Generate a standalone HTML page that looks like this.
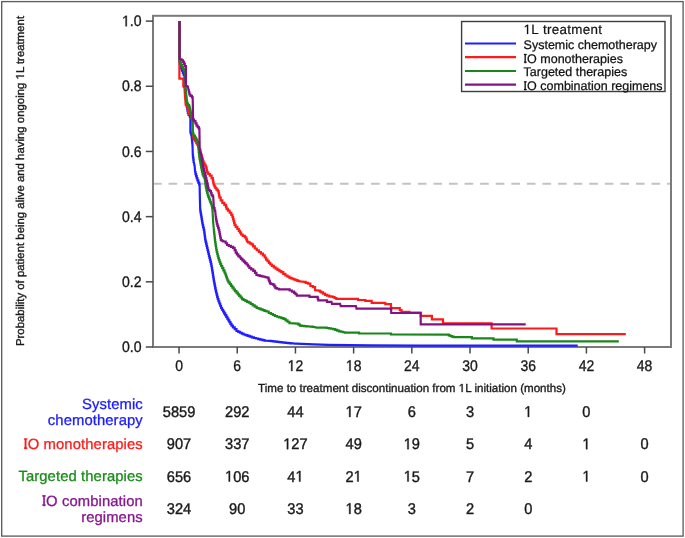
<!DOCTYPE html>
<html><head><meta charset="utf-8"><style>
html,body{margin:0;padding:0;background:#fff;}
svg{display:block;will-change:transform;filter:blur(0.3px);}
text{font-family:"Liberation Sans",sans-serif;text-rendering:geometricPrecision;}
.yl text{font-size:15.3px;text-anchor:end;fill:#1a1a1a;stroke:#1a1a1a;stroke-width:0.35px;}
.xl text{font-size:15.5px;text-anchor:middle;fill:#1a1a1a;stroke:#1a1a1a;stroke-width:0.35px;}
.num{font-size:15.4px;text-anchor:middle;fill:#1a1a1a;stroke:#1a1a1a;stroke-width:0.4px;}
.lab{font-size:14.8px;text-anchor:end;letter-spacing:0.1px;stroke-width:0.3px;}
.leg{font-size:12.5px;fill:#111;stroke:#111;stroke-width:0.25px;}
.legt{font-size:13.4px;letter-spacing:0.3px;fill:#111;stroke:#111;stroke-width:0.2px;}
</style></head><body>
<svg width="685" height="538" viewBox="0 0 685 538">
<rect x="0" y="0" width="685" height="538" fill="#fff"/>
<rect x="1.7" y="1.6" width="681.4" height="534.5" fill="none" stroke="#5e5e5e" stroke-width="1.35"/>
<line x1="153" y1="183.8" x2="671" y2="183.8" stroke="#c2c2c2" stroke-width="2" stroke-dasharray="8.6 6.98"/>
<rect x="153" y="15.8" width="518" height="331.2" fill="none" stroke="#7a7a7a" stroke-width="2"/>
<g fill="none" stroke-width="2.2" stroke-linejoin="miter">
<polyline stroke="#1e1eff" points="179.50,21.10 179.50,62.00 179.83,62.00 179.83,64.17 180.50,64.17 180.50,66.33 181.17,66.33 181.17,68.50 181.50,68.50 181.94,68.50 181.94,70.75 182.81,70.75 182.81,73.00 183.69,73.00 183.69,75.25 184.56,75.25 184.56,77.50 185.00,77.50 185.50,90.00 185.59,90.00 185.59,92.14 185.78,92.14 185.78,94.29 185.96,94.29 185.96,96.43 186.15,96.43 186.15,98.57 186.34,98.57 186.34,100.71 186.52,100.71 186.52,102.86 186.71,102.86 186.71,105.00 186.80,105.00 186.95,105.00 186.95,107.00 187.25,107.00 187.25,109.00 187.55,109.00 187.55,111.00 187.85,111.00 187.85,113.00 188.00,113.00 188.60,113.00 188.60,114.85 189.80,114.85 189.80,116.70 190.40,116.70 190.40,131.80 190.70,131.80 190.70,133.45 191.30,133.45 191.30,135.10 191.60,135.10 191.69,135.10 191.69,137.08 191.87,137.08 191.87,139.06 192.05,139.06 192.05,141.04 192.23,141.04 192.23,143.02 192.41,143.02 192.41,145.00 192.50,145.00 192.80,155.00 192.97,155.00 192.97,157.33 193.30,157.33 193.30,159.67 193.63,159.67 193.63,162.00 193.80,162.00 194.60,166.00 195.20,172.00 195.50,172.00 195.50,174.07 196.10,174.07 196.10,176.13 196.70,176.13 196.70,178.20 197.00,178.20 197.43,178.20 197.43,180.37 198.30,180.37 198.30,182.53 199.17,182.53 199.17,184.70 199.60,184.70 199.90,199.00 200.20,209.40 200.36,209.40 200.36,211.35 200.69,211.35 200.69,213.30 201.01,213.30 201.01,215.25 201.34,215.25 201.34,217.20 201.50,217.20 201.66,217.20 201.66,219.15 201.99,219.15 201.99,221.10 202.31,221.10 202.31,223.05 202.64,223.05 202.64,225.00 202.80,225.00 203.12,225.00 203.12,227.50 203.78,227.50 203.78,230.00 204.10,230.00 204.25,230.00 204.25,232.38 204.55,232.38 204.55,234.75 204.85,234.75 204.85,237.12 205.15,237.12 205.15,239.50 205.30,239.50 205.55,239.50 205.55,241.60 206.05,241.60 206.05,243.70 206.55,243.70 206.55,245.80 207.05,245.80 207.05,247.90 207.55,247.90 207.55,250.00 207.80,250.00 208.03,250.00 208.03,252.00 208.50,252.00 208.50,254.00 208.97,254.00 208.97,256.00 209.20,256.00 209.45,256.00 209.45,257.95 209.95,257.95 209.95,259.90 210.45,259.90 210.45,261.85 210.95,261.85 210.95,263.80 211.20,263.80 211.39,263.80 211.39,266.02 211.76,266.02 211.76,268.25 212.14,268.25 212.14,270.48 212.51,270.48 212.51,272.70 212.70,272.70 212.88,272.70 212.88,274.90 213.22,274.90 213.22,277.10 213.57,277.10 213.57,279.30 213.92,279.30 213.92,281.50 214.10,281.50 214.31,281.50 214.31,283.70 214.74,283.70 214.74,285.90 215.16,285.90 215.16,288.10 215.59,288.10 215.59,290.30 215.80,290.30 216.08,290.30 216.08,292.48 216.62,292.48 216.62,294.65 217.18,294.65 217.18,296.82 217.72,296.82 217.72,299.00 218.00,299.00 218.44,299.00 218.44,301.25 219.31,301.25 219.31,303.50 220.19,303.50 220.19,305.75 221.06,305.75 221.06,308.00 221.50,308.00 222.03,308.00 222.03,309.76 223.09,309.76 223.09,311.52 224.15,311.52 224.15,313.28 225.21,313.28 225.21,315.04 226.27,315.04 226.27,316.80 226.80,316.80 227.32,316.80 227.32,318.56 228.36,318.56 228.36,320.32 229.40,320.32 229.40,322.08 230.44,322.08 230.44,323.84 231.48,323.84 231.48,325.60 232.00,325.60 232.90,325.60 232.90,327.40 234.70,327.40 234.70,329.20 236.50,329.20 236.50,331.00 237.40,331.00 238.28,331.00 238.28,331.88 240.03,331.88 240.03,332.75 241.78,332.75 241.78,333.62 243.53,333.62 243.53,334.50 244.40,334.50 245.46,334.50 245.46,335.20 247.58,335.20 247.58,335.90 249.70,335.90 249.70,336.60 251.82,336.60 251.82,337.30 253.94,337.30 253.94,338.00 255.00,338.00 256.06,338.00 256.06,338.52 258.18,338.52 258.18,339.04 260.30,339.04 260.30,339.56 262.42,339.56 262.42,340.08 264.54,340.08 264.54,340.60 265.60,340.60 270.00,340.90 271.04,340.90 271.04,341.16 273.13,341.16 273.13,341.41 275.21,341.41 275.21,341.67 277.30,341.67 277.30,341.93 279.39,341.93 279.39,342.19 281.47,342.19 281.47,342.44 283.56,342.44 283.56,342.70 284.60,342.70 285.77,342.70 285.77,342.90 288.11,342.90 288.11,343.10 290.45,343.10 290.45,343.30 292.79,343.30 292.79,343.50 295.13,343.50 295.13,343.70 296.30,343.70 313.80,344.40 328.40,344.80 370.00,345.30 420.00,345.60 577.70,345.60"/>
<polyline stroke="#ff1a1a" points="179.40,21.10 179.40,78.60 183.30,78.60 183.30,86.00 183.85,86.00 183.85,87.00 184.40,87.00 185.20,98.90 185.70,104.90 186.60,104.90 186.60,106.40 187.50,106.40 188.20,112.30 189.30,112.30 189.30,113.80 190.40,113.80 190.90,116.00 191.75,116.00 191.75,118.50 192.60,118.50 192.70,133.50 192.95,133.50 192.95,136.00 193.45,136.00 193.45,138.50 193.70,138.50 194.15,138.50 194.15,139.30 194.60,139.30 195.15,139.30 195.15,141.20 196.25,141.20 196.25,143.10 197.35,143.10 197.35,145.00 197.90,145.00 198.23,145.00 198.23,146.99 198.88,146.99 198.88,148.98 199.54,148.98 199.54,150.97 200.19,150.97 200.19,152.96 200.85,152.96 200.85,154.94 201.51,154.94 201.51,156.93 202.16,156.93 202.16,158.92 202.82,158.92 202.82,160.91 203.47,160.91 203.47,162.90 203.80,162.90 204.38,162.90 204.38,164.70 205.53,164.70 205.53,166.50 206.10,166.50 206.32,166.50 206.32,168.47 206.75,168.47 206.75,170.43 207.18,170.43 207.18,172.40 207.40,172.40 208.20,172.40 208.20,174.00 209.80,174.00 209.80,175.60 210.60,175.60 211.60,175.60 211.60,178.20 212.60,178.20 212.82,178.20 212.82,180.37 213.25,180.37 213.25,182.53 213.68,182.53 213.68,184.70 213.90,184.70 214.38,184.70 214.38,186.35 215.33,186.35 215.33,188.00 215.80,188.00 216.45,188.00 216.45,189.60 217.75,189.60 217.75,191.20 218.40,191.20 218.62,191.20 218.62,193.37 219.05,193.37 219.05,195.53 219.48,195.53 219.48,197.70 219.70,197.70 220.70,197.70 220.70,200.30 221.70,200.30 222.35,200.30 222.35,202.90 223.00,202.90 224.30,202.90 224.30,204.90 225.60,204.90 225.93,204.90 225.93,206.85 226.57,206.85 226.57,208.80 226.90,208.80 227.85,208.80 227.85,210.70 228.80,210.70 229.62,210.70 229.62,212.75 231.28,212.75 231.28,214.80 232.10,214.80 232.43,214.80 232.43,217.00 233.07,217.00 233.07,219.20 233.40,219.20 233.63,219.20 233.63,221.07 234.10,221.07 234.10,222.93 234.57,222.93 234.57,224.80 234.80,224.80 235.65,224.80 235.65,226.90 237.35,226.90 237.35,229.00 238.20,229.00 238.78,229.00 238.78,230.83 239.95,230.83 239.95,232.67 241.12,232.67 241.12,234.50 241.70,234.50 242.75,234.50 242.75,235.90 244.85,235.90 244.85,237.30 245.90,237.30 246.25,237.30 246.25,239.40 246.95,239.40 246.95,241.50 247.30,241.50 248.12,241.50 248.12,242.43 249.75,242.43 249.75,243.37 251.38,243.37 251.38,244.30 252.20,244.30 253.07,244.30 253.07,246.40 254.82,246.40 254.82,248.50 255.70,248.50 256.75,248.50 256.75,250.25 258.85,250.25 258.85,252.00 259.90,252.00 260.92,252.00 260.92,253.70 262.98,253.70 262.98,255.40 264.00,255.40 264.70,255.40 264.70,257.50 266.10,257.50 266.10,259.60 266.80,259.60 267.50,259.60 267.50,261.23 268.90,261.23 268.90,262.87 270.30,262.87 270.30,264.50 271.00,264.50 271.93,264.50 271.93,265.90 273.80,265.90 273.80,267.30 275.67,267.30 275.67,268.70 276.60,268.70 277.53,268.70 277.53,269.87 279.40,269.87 279.40,271.03 281.27,271.03 281.27,272.20 282.20,272.20 283.25,272.20 283.25,273.85 285.35,273.85 285.35,275.50 286.40,275.50 287.42,275.50 287.42,276.65 289.48,276.65 289.48,277.80 290.50,277.80 291.48,277.80 291.48,278.60 293.45,278.60 293.45,279.40 295.42,279.40 295.42,280.20 296.40,280.20 297.40,280.20 297.40,280.80 299.40,280.80 299.40,281.40 300.40,281.40 304.50,281.90 305.68,281.90 305.68,282.80 308.02,282.80 308.02,283.70 309.20,283.70 310.35,283.70 310.35,286.00 311.50,286.00 313.00,286.00 313.00,287.20 314.50,287.20 315.05,287.20 315.05,290.10 315.60,290.10 319.10,290.70 319.83,290.70 319.83,291.55 321.27,291.55 321.27,292.40 322.00,292.40 323.02,292.40 323.02,293.60 325.08,293.60 325.08,294.80 326.10,294.80 327.12,294.80 327.12,295.55 329.18,295.55 329.18,296.30 330.20,296.30 331.07,296.30 331.07,296.70 332.82,296.70 332.82,297.10 333.70,297.10 334.57,297.10 334.57,298.00 336.32,298.00 336.32,298.90 337.20,298.90 358.00,298.90 358.00,300.00 365.30,300.00 365.30,300.80 371.70,300.80 371.70,302.90 385.30,302.90 385.30,304.20 391.00,304.20 391.00,308.10 399.80,308.10 399.80,310.10 401.50,310.10 401.50,311.80 409.40,311.80 409.40,312.50 420.70,312.50 420.70,315.80 431.90,315.80 431.90,319.30 443.00,319.30 443.00,323.30 491.60,323.30 491.60,328.50 556.50,328.50 556.50,334.10 625.80,334.10"/>
<polyline stroke="#1a871a" points="179.60,21.10 179.60,61.20 180.07,61.20 180.07,63.05 181.00,63.05 181.00,64.90 181.93,64.90 181.93,66.75 182.87,66.75 182.87,68.60 183.80,68.60 183.80,70.45 184.73,70.45 184.73,72.30 185.20,72.30 185.60,80.00 185.60,90.00 185.71,90.00 185.71,92.38 185.93,92.38 185.93,94.76 186.15,94.76 186.15,97.14 186.37,97.14 186.37,99.52 186.59,99.52 186.59,101.90 186.70,101.90 187.17,101.90 187.17,103.50 188.10,103.50 188.10,105.10 189.03,105.10 189.03,106.70 189.50,106.70 189.72,106.70 189.72,108.67 190.15,108.67 190.15,110.63 190.58,110.63 190.58,112.60 190.80,112.60 191.01,112.60 191.01,114.90 191.44,114.90 191.44,117.20 191.86,117.20 191.86,119.50 192.29,119.50 192.29,121.80 192.50,121.80 192.90,133.50 193.55,133.50 193.55,135.50 194.85,135.50 194.85,137.50 195.50,137.50 196.10,137.50 196.10,139.65 197.30,139.65 197.30,141.80 197.90,141.80 198.60,149.50 198.73,149.50 198.73,152.00 199.00,152.00 199.00,154.50 199.27,154.50 199.27,157.00 199.40,157.00 199.59,157.00 199.59,159.00 199.96,159.00 199.96,161.00 200.34,161.00 200.34,163.00 200.71,163.00 200.71,165.00 200.90,165.00 201.14,165.00 201.14,167.32 201.61,167.32 201.61,169.65 202.09,169.65 202.09,171.98 202.56,171.98 202.56,174.30 202.80,174.30 203.30,174.30 203.30,176.25 204.30,176.25 204.30,178.20 204.80,178.20 204.96,178.20 204.96,180.65 205.29,180.65 205.29,183.10 205.61,183.10 205.61,185.55 205.94,185.55 205.94,188.00 206.10,188.00 206.42,188.00 206.42,190.37 207.05,190.37 207.05,192.73 207.68,192.73 207.68,195.10 208.00,195.10 208.33,195.10 208.33,196.83 209.00,196.83 209.00,198.57 209.67,198.57 209.67,200.30 210.00,200.30 210.32,200.30 210.32,202.03 210.95,202.03 210.95,203.77 211.58,203.77 211.58,205.50 211.90,205.50 212.60,212.00 213.20,222.50 213.90,230.00 214.01,230.00 214.01,232.00 214.23,232.00 214.23,234.00 214.45,234.00 214.45,236.00 214.67,236.00 214.67,238.00 214.89,238.00 214.89,240.00 215.00,240.00 215.15,240.00 215.15,242.00 215.45,242.00 215.45,244.00 215.75,244.00 215.75,246.00 216.05,246.00 216.05,248.00 216.35,248.00 216.35,250.00 216.50,250.00 216.75,250.00 216.75,252.00 217.25,252.00 217.25,254.00 217.75,254.00 217.75,256.00 218.25,256.00 218.25,258.00 218.50,258.00 218.85,258.00 218.85,259.93 219.55,259.93 219.55,261.87 220.25,261.87 220.25,263.80 220.60,263.80 221.15,263.80 221.15,265.98 222.25,265.98 222.25,268.15 223.35,268.15 223.35,270.32 224.45,270.32 224.45,272.50 225.00,272.50 225.35,272.50 225.35,274.50 226.05,274.50 226.05,276.50 226.75,276.50 226.75,278.50 227.45,278.50 227.45,280.50 227.80,280.50 228.45,280.50 228.45,282.30 229.75,282.30 229.75,284.10 231.05,284.10 231.05,285.90 232.35,285.90 232.35,287.70 233.65,287.70 233.65,289.50 234.30,289.50 235.00,289.50 235.00,291.10 236.40,291.10 236.40,292.70 237.80,292.70 237.80,294.30 239.20,294.30 239.20,295.90 240.60,295.90 240.60,297.50 242.00,297.50 242.00,299.10 242.70,299.10 243.57,299.10 243.57,300.00 245.32,300.00 245.32,300.90 247.07,300.90 247.07,301.80 248.82,301.80 248.82,302.70 249.70,302.70 250.70,302.70 250.70,304.02 252.70,304.02 252.70,305.35 254.70,305.35 254.70,306.68 256.70,306.68 256.70,308.00 257.70,308.00 258.67,308.00 258.67,308.70 260.61,308.70 260.61,309.40 262.55,309.40 262.55,310.10 264.49,310.10 264.49,310.80 266.43,310.80 266.43,311.50 267.40,311.50 268.70,311.50 268.70,313.00 270.00,313.00 270.97,313.00 270.97,314.00 272.90,314.00 272.90,315.00 274.83,315.00 274.83,316.00 275.80,316.00 276.90,316.00 276.90,316.73 279.10,316.73 279.10,317.45 281.30,317.45 281.30,318.17 283.50,318.17 283.50,318.90 284.60,318.90 285.57,318.90 285.57,320.33 287.50,320.33 287.50,321.77 289.43,321.77 289.43,323.20 290.40,323.20 297.70,323.70 298.45,323.70 298.45,324.70 299.95,324.70 299.95,325.70 300.70,325.70 301.79,325.70 301.79,325.90 303.98,325.90 303.98,326.10 306.16,326.10 306.16,326.30 308.34,326.30 308.34,326.50 310.52,326.50 310.52,326.70 312.71,326.70 312.71,326.90 313.80,326.90 316.70,327.60 325.50,327.60 326.59,327.60 326.59,327.98 328.76,327.98 328.76,328.35 330.94,328.35 330.94,328.73 333.11,328.73 333.11,329.10 334.20,329.10 335.18,329.10 335.18,329.83 337.15,329.83 337.15,330.57 339.12,330.57 339.12,331.30 340.10,331.30 341.07,331.30 341.07,331.77 343.00,331.77 343.00,332.23 344.93,332.23 344.93,332.70 345.90,332.70 357.60,332.70 359.05,332.70 359.05,333.50 360.50,333.50 391.00,333.50 391.00,334.40 448.00,334.60 448.75,334.60 448.75,335.30 450.25,335.30 450.25,336.00 451.00,336.00 451.85,336.00 451.85,336.60 453.55,336.60 453.55,337.20 454.40,337.20 471.90,337.20 471.90,338.30 493.50,338.30 493.50,339.60 516.80,339.60 516.80,341.30 618.80,341.30"/>
<polyline stroke="#841284" points="179.60,21.10 179.60,58.90 181.00,59.30 181.60,59.30 181.60,60.40 182.20,60.40 182.95,60.40 182.95,61.90 183.70,61.90 184.07,61.90 184.07,63.95 184.82,63.95 184.82,66.00 185.20,66.00 185.90,66.00 185.90,85.70 187.80,86.40 188.50,90.00 188.80,90.00 188.80,92.25 189.40,92.25 189.40,94.50 189.70,94.50 190.45,94.50 190.45,95.95 191.95,95.95 191.95,97.40 192.70,97.40 193.10,119.70 194.00,119.70 194.00,121.20 194.90,121.20 195.45,121.20 195.45,123.45 196.55,123.45 196.55,125.70 197.10,125.70 197.68,125.70 197.68,127.20 198.82,127.20 198.82,128.70 199.40,128.70 199.70,149.50 200.25,149.50 200.25,152.50 200.80,152.50 200.99,152.50 200.99,154.72 201.36,154.72 201.36,156.95 201.74,156.95 201.74,159.18 202.11,159.18 202.11,161.40 202.30,161.40 202.80,165.20 203.05,165.20 203.05,167.15 203.55,167.15 203.55,169.10 204.05,169.10 204.05,171.05 204.55,171.05 204.55,173.00 204.80,173.00 205.12,173.00 205.12,175.60 205.78,175.60 205.78,178.20 206.10,178.20 206.43,178.20 206.43,180.80 207.07,180.80 207.07,183.40 207.40,183.40 207.62,183.40 207.62,185.57 208.05,185.57 208.05,187.73 208.48,187.73 208.48,189.90 208.70,189.90 209.65,189.90 209.65,191.20 210.60,191.20 210.93,191.20 210.93,193.15 211.57,193.15 211.57,195.10 211.90,195.10 212.55,195.10 212.55,196.40 213.20,196.40 213.90,208.10 214.55,208.10 214.55,210.70 215.20,210.70 215.80,217.20 216.02,217.20 216.02,219.40 216.45,219.40 216.45,221.60 216.88,221.60 216.88,223.80 217.10,223.80 217.43,223.80 217.43,225.87 218.10,225.87 218.10,227.93 218.77,227.93 218.77,230.00 219.10,230.00 219.29,230.00 219.29,232.00 219.67,232.00 219.67,234.00 220.05,234.00 220.05,236.00 220.43,236.00 220.43,238.00 220.81,238.00 220.81,240.00 221.00,240.00 221.75,240.00 221.75,240.75 223.25,240.75 223.25,241.50 224.00,241.50 225.00,241.50 225.70,241.50 225.70,243.25 227.10,243.25 227.10,245.00 227.80,245.00 228.85,245.00 228.85,245.93 230.95,245.93 230.95,246.87 233.05,246.87 233.05,247.80 234.10,247.80 234.62,247.80 234.62,250.20 235.67,250.20 235.67,252.60 236.20,252.60 236.90,252.60 236.90,254.35 238.30,254.35 238.30,256.10 239.00,256.10 239.68,256.10 239.68,257.50 241.05,257.50 241.05,258.90 242.42,258.90 242.42,260.30 243.10,260.30 243.80,260.30 243.80,261.70 245.20,261.70 245.20,263.10 246.60,263.10 246.60,264.50 247.30,264.50 248.00,264.50 248.00,266.25 249.40,266.25 249.40,268.00 250.10,268.00 251.15,268.00 251.15,269.40 253.25,269.40 253.25,270.80 254.30,270.80 255.00,270.80 255.00,272.90 256.40,272.90 256.40,275.00 257.10,275.00 258.02,275.00 258.02,275.43 259.85,275.43 259.85,275.87 261.68,275.87 261.68,276.30 262.60,276.30 263.53,276.30 263.53,276.77 265.40,276.77 265.40,277.23 267.27,277.23 267.27,277.70 268.20,277.70 268.55,277.70 268.55,279.57 269.25,279.57 269.25,281.43 269.95,281.43 269.95,283.30 270.30,283.30 271.18,283.30 271.18,284.00 272.93,284.00 272.93,284.70 273.80,284.70 274.32,284.70 274.32,286.45 275.38,286.45 275.38,288.20 275.90,288.20 276.92,288.20 276.92,288.75 278.98,288.75 278.98,289.30 280.00,289.30 288.80,289.30 289.65,289.30 289.65,290.50 290.50,290.50 291.95,290.50 291.95,291.60 293.40,291.60 294.08,291.60 294.08,292.93 295.45,292.93 295.45,294.27 296.82,294.27 296.82,295.60 297.50,295.60 308.60,295.60 309.50,295.60 309.50,296.80 310.40,296.80 317.40,296.80 317.67,296.80 317.67,298.55 318.23,298.55 318.23,300.30 318.50,300.30 326.10,300.30 327.00,300.30 327.00,301.80 327.90,301.80 331.50,301.80 332.00,303.90 340.10,303.90 340.70,306.10 355.90,306.10 356.50,308.60 391.20,308.60 391.20,313.00 420.70,313.00 420.70,324.30 525.70,324.30"/>
</g>
<g stroke="#484848" stroke-width="1.5"><line x1="145.8" y1="347.00" x2="153" y2="347.00"/><line x1="145.8" y1="281.82" x2="153" y2="281.82"/><line x1="145.8" y1="216.64" x2="153" y2="216.64"/><line x1="145.8" y1="151.46" x2="153" y2="151.46"/><line x1="145.8" y1="86.28" x2="153" y2="86.28"/><line x1="145.8" y1="21.10" x2="153" y2="21.10"/><line x1="179.05" y1="347" x2="179.05" y2="353.5"/><line x1="237.24" y1="347" x2="237.24" y2="353.5"/><line x1="295.44" y1="347" x2="295.44" y2="353.5"/><line x1="353.63" y1="347" x2="353.63" y2="353.5"/><line x1="411.83" y1="347" x2="411.83" y2="353.5"/><line x1="470.02" y1="347" x2="470.02" y2="353.5"/><line x1="528.21" y1="347" x2="528.21" y2="353.5"/><line x1="586.41" y1="347" x2="586.41" y2="353.5"/><line x1="644.60" y1="347" x2="644.60" y2="353.5"/></g>
<g class="yl" transform="translate(141.6 0) scale(0.92 1)"><text x="0" y="352.20">0.0</text><text x="0" y="287.02">0.2</text><text x="0" y="221.84">0.4</text><text x="0" y="156.66">0.6</text><text x="0" y="91.48">0.8</text><g ><text x="0" y="26.30"> .0</text><path d="M-17.42 26.30 L-17.42 17.06 L-19.79 18.75 L-19.79 17.48 L-17.31 15.77 L-16.07 15.77 L-16.07 26.30Z" fill="#1a1a1a" stroke="#1a1a1a" stroke-width="0.35px"/></g></g>
<g class="xl"><g transform="translate(179.05 371.0) scale(0.9 1)"><text x="0" y="0">0</text></g><g transform="translate(237.24 371.0) scale(0.9 1)"><text x="0" y="0">6</text></g><g transform="translate(295.44 371.0) scale(0.9 1)"><text x="0" y="0"> 2</text><path d="M-4.73 0.00 L-4.73 -9.36 L-7.13 -7.64 L-7.13 -8.93 L-4.61 -10.66 L-3.36 -10.66 L-3.36 0.00Z" fill="#1a1a1a" stroke="#1a1a1a" stroke-width="0.35px"/></g><g transform="translate(353.63 371.0) scale(0.9 1)"><text x="0" y="0"> 8</text><path d="M-4.73 0.00 L-4.73 -9.36 L-7.13 -7.64 L-7.13 -8.93 L-4.61 -10.66 L-3.36 -10.66 L-3.36 0.00Z" fill="#1a1a1a" stroke="#1a1a1a" stroke-width="0.35px"/></g><g transform="translate(411.83 371.0) scale(0.9 1)"><text x="0" y="0">24</text></g><g transform="translate(470.02 371.0) scale(0.9 1)"><text x="0" y="0">30</text></g><g transform="translate(528.21 371.0) scale(0.9 1)"><text x="0" y="0">36</text></g><g transform="translate(586.41 371.0) scale(0.9 1)"><text x="0" y="0">42</text></g><g transform="translate(644.60 371.0) scale(0.9 1)"><text x="0" y="0">48</text></g></g>
<rect x="461.6" y="21.5" width="203.4" height="70" fill="#fff" stroke="#3c3c3c" stroke-width="1.4"/><g ><text class="legt" x="523.6" y="34"> </text><path d="M526.97 34.00 L526.97 25.91 L524.89 27.39 L524.89 26.28 L527.07 24.78 L528.15 24.78 L528.15 34.00Z" fill="#111" stroke="#111" stroke-width="0.2px"/></g><text class="legt" y="34"><tspan x="531.2">L</tspan><tspan x="543">treatment</tspan></text><line x1="465" y1="43.5" x2="516" y2="43.5" stroke="#1e1eff" stroke-width="2.2"/><text class="leg" x="523.6" y="48.9">Systemic chemotherapy</text><line x1="465" y1="57.2" x2="516" y2="57.2" stroke="#ff1a1a" stroke-width="2.2"/><g ><text class="leg" x="523.6" y="62.6">IO monotherapies</text><path d="M524.03 62.60 L526.65 62.60 L526.65 61.68 L524.03 61.68ZM524.03 54.92 L526.65 54.92 L526.65 54.00 L524.03 54.00Z" fill="#111" stroke="#111" stroke-width="0.25px"/></g><line x1="465" y1="71.0" x2="516" y2="71.0" stroke="#1a871a" stroke-width="2.2"/><text class="leg" x="523.6" y="76.4">Targeted therapies</text><line x1="465" y1="84.6" x2="516" y2="84.6" stroke="#841284" stroke-width="2.2"/><g ><text class="leg" x="523.6" y="90.0">IO combination regimens</text><path d="M524.03 90.00 L526.65 90.00 L526.65 89.08 L524.03 89.08ZM524.03 82.32 L526.65 82.32 L526.65 81.40 L524.03 81.40Z" fill="#111" stroke="#111" stroke-width="0.25px"/></g>
<g ><text x="412" y="392" font-size="11.6" text-anchor="middle" fill="#1a1a1a" stroke="#1a1a1a" stroke-width="0.35">Time to treatment discontinuation from  L initiation (months)</text><path d="M461.62 392.00 L461.62 384.99 L459.82 386.28 L459.82 385.32 L461.71 384.02 L462.65 384.02 L462.65 392.00Z" fill="#1a1a1a" stroke="#1a1a1a" stroke-width="0.35px"/></g>
<g transform="translate(24 181) rotate(-90)"><text x="0" y="0" font-size="11.4" text-anchor="middle" fill="#1a1a1a" stroke="#1a1a1a" stroke-width="0.35">Probability of patient being alive and having ongoing  L treatment</text><path d="M104.39 0.00 L104.39 -6.89 L102.62 -5.62 L102.62 -6.57 L104.47 -7.84 L105.40 -7.84 L105.40 0.00Z" fill="#1a1a1a" stroke="#1a1a1a" stroke-width="0.35px"/></g>
<text class="lab" x="142.8" y="408.5" fill="#1a1aff" stroke="#1a1aff">Systemic</text><text class="lab" x="142.8" y="425.0" fill="#1a1aff" stroke="#1a1aff">chemotherapy</text><g transform="translate(179.05 416.9) scale(0.95 1)"><text class="num" x="0" y="0">5859</text></g><g transform="translate(237.24 416.9) scale(0.95 1)"><text class="num" x="0" y="0">292</text></g><g transform="translate(295.44 416.9) scale(0.95 1)"><text class="num" x="0" y="0">44</text></g><g transform="translate(353.63 416.9) scale(0.95 1)"><text class="num" x="0" y="0"> 7</text><path d="M-4.69 0.00 L-4.69 -9.30 L-7.08 -7.59 L-7.08 -8.87 L-4.58 -10.60 L-3.33 -10.60 L-3.33 0.00Z" fill="#1a1a1a" stroke="#1a1a1a" stroke-width="0.4px"/></g><g transform="translate(411.83 416.9) scale(0.95 1)"><text class="num" x="0" y="0">6</text></g><g transform="translate(470.02 416.9) scale(0.95 1)"><text class="num" x="0" y="0">3</text></g><g transform="translate(528.21 416.9) scale(0.95 1)"><text class="num" x="0" y="0"> </text><path d="M-0.41 0.00 L-0.41 -9.30 L-2.80 -7.59 L-2.80 -8.87 L-0.30 -10.60 L0.95 -10.60 L0.95 0.00Z" fill="#1a1a1a" stroke="#1a1a1a" stroke-width="0.4px"/></g><g transform="translate(586.41 416.9) scale(0.95 1)"><text class="num" x="0" y="0">0</text></g><g ><text class="lab" x="142.8" y="448.7" fill="#ff1a1a" stroke="#ff1a1a">IO monotherapies</text><path d="M24.09 448.70 L27.19 448.70 L27.19 447.62 L24.09 447.62ZM24.09 439.60 L27.19 439.60 L27.19 438.52 L24.09 438.52Z" fill="#ff1a1a" stroke="#ff1a1a" stroke-width="0.3px"/></g><g transform="translate(179.05 449.2) scale(0.95 1)"><text class="num" x="0" y="0">907</text></g><g transform="translate(237.24 449.2) scale(0.95 1)"><text class="num" x="0" y="0">337</text></g><g transform="translate(295.44 449.2) scale(0.95 1)"><text class="num" x="0" y="0"> 27</text><path d="M-8.97 0.00 L-8.97 -9.30 L-11.36 -7.59 L-11.36 -8.87 L-8.86 -10.60 L-7.61 -10.60 L-7.61 0.00Z" fill="#1a1a1a" stroke="#1a1a1a" stroke-width="0.4px"/></g><g transform="translate(353.63 449.2) scale(0.95 1)"><text class="num" x="0" y="0">49</text></g><g transform="translate(411.83 449.2) scale(0.95 1)"><text class="num" x="0" y="0"> 9</text><path d="M-4.69 0.00 L-4.69 -9.30 L-7.08 -7.59 L-7.08 -8.87 L-4.58 -10.60 L-3.33 -10.60 L-3.33 0.00Z" fill="#1a1a1a" stroke="#1a1a1a" stroke-width="0.4px"/></g><g transform="translate(470.02 449.2) scale(0.95 1)"><text class="num" x="0" y="0">5</text></g><g transform="translate(528.21 449.2) scale(0.95 1)"><text class="num" x="0" y="0">4</text></g><g transform="translate(586.41 449.2) scale(0.95 1)"><text class="num" x="0" y="0"> </text><path d="M-0.41 0.00 L-0.41 -9.30 L-2.80 -7.59 L-2.80 -8.87 L-0.30 -10.60 L0.95 -10.60 L0.95 0.00Z" fill="#1a1a1a" stroke="#1a1a1a" stroke-width="0.4px"/></g><g transform="translate(644.60 449.2) scale(0.95 1)"><text class="num" x="0" y="0">0</text></g><text class="lab" x="142.8" y="481.0" fill="#1a8c1a" stroke="#1a8c1a">Targeted therapies</text><g transform="translate(179.05 481.5) scale(0.95 1)"><text class="num" x="0" y="0">656</text></g><g transform="translate(237.24 481.5) scale(0.95 1)"><text class="num" x="0" y="0"> 06</text><path d="M-8.97 0.00 L-8.97 -9.30 L-11.36 -7.59 L-11.36 -8.87 L-8.86 -10.60 L-7.61 -10.60 L-7.61 0.00Z" fill="#1a1a1a" stroke="#1a1a1a" stroke-width="0.4px"/></g><g transform="translate(295.44 481.5) scale(0.95 1)"><text class="num" x="0" y="0">4 </text><path d="M3.86 0.00 L3.86 -9.30 L1.47 -7.59 L1.47 -8.87 L3.97 -10.60 L5.22 -10.60 L5.22 0.00Z" fill="#1a1a1a" stroke="#1a1a1a" stroke-width="0.4px"/></g><g transform="translate(353.63 481.5) scale(0.95 1)"><text class="num" x="0" y="0">2 </text><path d="M3.86 0.00 L3.86 -9.30 L1.47 -7.59 L1.47 -8.87 L3.97 -10.60 L5.22 -10.60 L5.22 0.00Z" fill="#1a1a1a" stroke="#1a1a1a" stroke-width="0.4px"/></g><g transform="translate(411.83 481.5) scale(0.95 1)"><text class="num" x="0" y="0"> 5</text><path d="M-4.69 0.00 L-4.69 -9.30 L-7.08 -7.59 L-7.08 -8.87 L-4.58 -10.60 L-3.33 -10.60 L-3.33 0.00Z" fill="#1a1a1a" stroke="#1a1a1a" stroke-width="0.4px"/></g><g transform="translate(470.02 481.5) scale(0.95 1)"><text class="num" x="0" y="0">7</text></g><g transform="translate(528.21 481.5) scale(0.95 1)"><text class="num" x="0" y="0">2</text></g><g transform="translate(586.41 481.5) scale(0.95 1)"><text class="num" x="0" y="0"> </text><path d="M-0.41 0.00 L-0.41 -9.30 L-2.80 -7.59 L-2.80 -8.87 L-0.30 -10.60 L0.95 -10.60 L0.95 0.00Z" fill="#1a1a1a" stroke="#1a1a1a" stroke-width="0.4px"/></g><g transform="translate(644.60 481.5) scale(0.95 1)"><text class="num" x="0" y="0">0</text></g><g ><text class="lab" x="142.8" y="505.5" fill="#87168f" stroke="#87168f">IO combination</text><path d="M42.38 505.50 L45.48 505.50 L45.48 504.42 L42.38 504.42ZM42.38 496.40 L45.48 496.40 L45.48 495.32 L42.38 495.32Z" fill="#87168f" stroke="#87168f" stroke-width="0.3px"/></g><text class="lab" x="142.8" y="522.0" fill="#87168f" stroke="#87168f">regimens</text><g transform="translate(179.05 513.9) scale(0.95 1)"><text class="num" x="0" y="0">324</text></g><g transform="translate(237.24 513.9) scale(0.95 1)"><text class="num" x="0" y="0">90</text></g><g transform="translate(295.44 513.9) scale(0.95 1)"><text class="num" x="0" y="0">33</text></g><g transform="translate(353.63 513.9) scale(0.95 1)"><text class="num" x="0" y="0"> 8</text><path d="M-4.69 0.00 L-4.69 -9.30 L-7.08 -7.59 L-7.08 -8.87 L-4.58 -10.60 L-3.33 -10.60 L-3.33 0.00Z" fill="#1a1a1a" stroke="#1a1a1a" stroke-width="0.4px"/></g><g transform="translate(411.83 513.9) scale(0.95 1)"><text class="num" x="0" y="0">3</text></g><g transform="translate(470.02 513.9) scale(0.95 1)"><text class="num" x="0" y="0">2</text></g><g transform="translate(528.21 513.9) scale(0.95 1)"><text class="num" x="0" y="0">0</text></g>
</svg>
</body></html>
